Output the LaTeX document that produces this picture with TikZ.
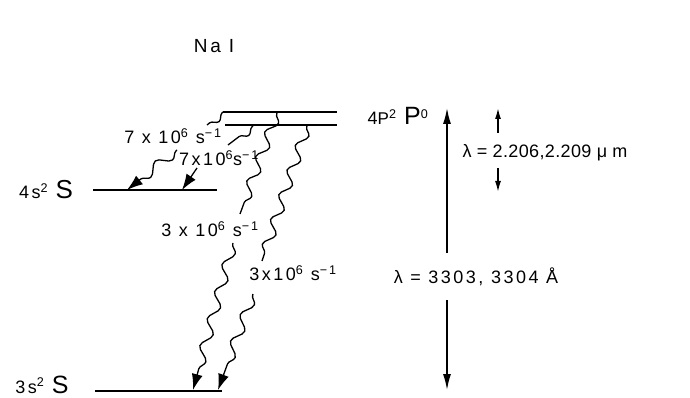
\documentclass[tikz,border=0pt]{standalone}
\usepackage{fontspec}
\setmainfont{Liberation Sans}[LetterSpace=14]
\usetikzlibrary{arrows.meta,decorations.pathmorphing}
\newcommand{\sups}[1]{\textsuperscript{#1}}
\begin{document}
\begin{tikzpicture}[x=1pt,y=-1pt,
  level/.style={line width=2.2pt},
  wave/.style={line width=1.3pt, decorate,
    decoration={snake,segment length=26pt,amplitude=5pt,pre length=1pt,post length=2pt}},
  wavetip/.style={line width=1.3pt, decorate,
    decoration={snake,segment length=28pt,amplitude=5pt,pre length=1pt,post length=16pt},
    -{Latex[length=16pt,width=11pt]}},
  lbl/.style={font=\fontsize{18}{20}\selectfont, inner sep=0pt},
  bigarrow/.style={line width=1.5pt, -{Latex[length=16pt,width=8pt]}},
  smallarrow/.style={line width=1.5pt, -{Latex[length=11pt,width=6pt]}}]
\useasboundingbox (0,0) rectangle (690,398);

% title
\node[lbl, font=\fontsize{19}{22}\selectfont] (title) at (214,46) {Na I};

% levels
\coordinate (p1l) at (223,112); \coordinate (p1r) at (337,112);
\coordinate (p2l) at (225,125); \coordinate (p2r) at (337,125);
\coordinate (s4l) at (93,190);  \coordinate (s4r) at (217,190);
\coordinate (s3l) at (95,391);  \coordinate (s3r) at (222,391);
\draw[level] (p1l) -- (p1r);
\draw[level] (p2l) -- (p2r);
\draw[level] (s4l) -- (s4r);
\draw[level] (s3l) -- (s3r);

% level labels
\node[lbl] (l4p) at (398,116) {4{\fontsize{17}{17}\selectfont P}\sups{2} {\fontsize{25}{25}\selectfont P}\sups{0}};
\node[lbl] (l4s) at (46,190) {4{\fontsize{18}{18}\selectfont s}\sups{2} {\fontsize{26}{26}\selectfont S}};
\node[lbl, anchor=base] (l3s) at (42,393) {3s\sups{2} {\fontsize{25}{25}\selectfont S}};

% rate labels
\node[lbl] (r1) at (173,136) {7 x 10\sups{6} s\sups{−1}};
\node[lbl] (r2) at (219,158) {7x10\sups{6}s\sups{−1}};
\node[lbl] (r3) at (210,229) {3 x 10\sups{6} s\sups{−1}};
\node[lbl] (r4) at (293,273) {3x10\sups{6} s\sups{−1}};

% wavy transitions
\coordinate (w1a) at (223,112); \coordinate (w1b) at (207,125);
\coordinate (w1c) at (177,150); \coordinate (w1d) at (127,190);
\coordinate (w2a) at (253,126); \coordinate (w2b) at (228,145);
\coordinate (w2c) at (197,168); \coordinate (w2d) at (182,190);
\coordinate (w3a) at (277,113); \coordinate (w3b) at (240,214);
\coordinate (w3c) at (233,243); \coordinate (w3d) at (193,390);
\coordinate (w4a) at (307,126); \coordinate (w4b) at (262,261);
\coordinate (w4c) at (253,294); \coordinate (w4d) at (218,390);
\draw[wave] (w1a) -- (w1b);
\draw[wavetip] (w1c) -- (w1d);
\draw[wave] (w2a) -- (w2b);
\draw[wavetip] (w2c) -- (w2d);
\draw[wave] (w3a) -- (w3b);
\draw[wavetip] (w3c) -- (w3d);
\draw[wave] (w4a) -- (w4b);
\draw[wavetip] (w4c) -- (w4d);

% right-hand wavelength labels and arrows
\node[lbl] (lamir) at (545,153) {\addfontfeature{LetterSpace=2}λ = 2.206,2.209 μ m};
\node[lbl] (lamuv) at (476,277) {λ = 3303, 3304 Å};
\coordinate (a1) at (447,253); \coordinate (a1t) at (447,108);
\coordinate (a2) at (447,300); \coordinate (a2t) at (447,390);
\coordinate (b1) at (498,133); \coordinate (b1t) at (498,108);
\coordinate (b2) at (498,168); \coordinate (b2t) at (498,192);
\draw[bigarrow] (a1) -- (a1t);
\draw[bigarrow] (a2) -- (a2t);
\draw[smallarrow] (b1) -- (b1t);
\draw[smallarrow] (b2) -- (b2t);
\end{tikzpicture}
\end{document}
